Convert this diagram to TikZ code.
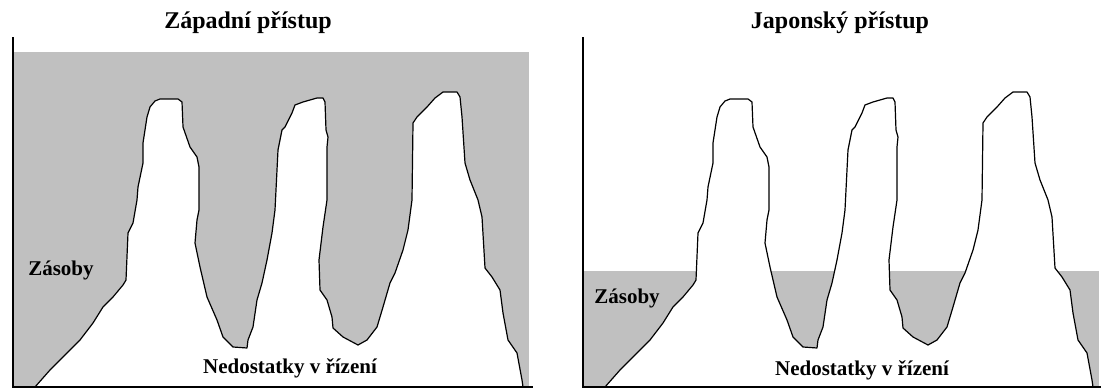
\documentclass[tikz,border=0pt]{standalone}
\usepackage{fontspec}
\setmainfont{Liberation Serif}

\definecolor{cinza}{RGB}{192,192,192}

\tikzset{
  eixo/.style={line width=2.2pt},
  contorno/.style={line width=1.2pt, line join=round},
  titulo/.style={font=\bfseries\fontsize{24}{28}\selectfont, inner sep=0pt},
  rotulo/.style={font=\bfseries\fontsize{21}{25}\selectfont, inner sep=0pt},
  % perfil das tres montanhas (coordenadas em pixels do painel esquerdo)
  montanhas/.pic={
    \draw[contorno, fill=white] (35,387) -- (50,370) -- (63,357) -- (80,340)
      -- (93,323) -- (103,307) -- (113,297) -- (123,285) -- (126,280)
      -- (128,233) -- (133,223) -- (137,200) -- (138,187) -- (143,163)
      -- (143,143) -- (147,117) -- (150,107) -- (155,101) -- (160,99)
      -- (178,99) -- (182,102) -- (183,127) -- (190,147) -- (197,157)
      -- (199,167) -- (199,210) -- (197,220) -- (195,243) -- (200,267)
      -- (207,297) -- (217,320) -- (223,337) -- (233,347) -- (247,348)
      -- (248,340) -- (253,327) -- (257,300) -- (262,283) -- (267,260)
      -- (272,233) -- (275,210) -- (278,150) -- (282,130) -- (285,127)
      -- (292,113) -- (295,105) -- (303,102) -- (317,98) -- (323,98)
      -- (325,102) -- (326,130) -- (328,137) -- (327,147) -- (327,200)
      -- (323,227) -- (319,260) -- (320,290) -- (327,300) -- (332,317)
      -- (333,328) -- (343,337) -- (358,345) -- (367,340) -- (377,327)
      -- (383,307) -- (390,283) -- (395,273) -- (403,250) -- (408,230)
      -- (412,200) -- (413,123) -- (417,117) -- (427,107) -- (435,98)
      -- (443,92) -- (457,92) -- (460,97) -- (462,117) -- (465,163)
      -- (470,180) -- (478,200) -- (482,217) -- (485,268) -- (492,277)
      -- (500,290) -- (503,313) -- (508,340) -- (517,353) -- (522,380)
      -- (523,387) -- cycle;
  }
}

\begin{document}
\begin{tikzpicture}[x=1pt, y=-1pt]
\useasboundingbox (0,0) rectangle (1101,388);

% Cantos dos eixos
\coordinate (TL1) at (13,37);  % superior esquerdo
\coordinate (BL1) at (13,387); % inferior esquerdo
\coordinate (BR1) at (533,387);% inferior direito
\coordinate (TL2) at (583,37);
\coordinate (BL2) at (583,387);
\coordinate (BR2) at (1101,387);

% --- Estoques (area cinza) ---
\fill[cinza] (13,52) rectangle (529,387);
\fill[cinza] (583,271) rectangle (1099,387);

% --- Montanhas ---
\pic at (0,0) {montanhas};
\pic at (570,0) {montanhas};

% --- Eixos ---
\draw[eixo] (TL1) -- (BL1) -- (BR1);
\draw[eixo] (TL2) -- (BL2) -- (BR2);

% --- Textos ---
\node[titulo] (tituloOc) at (248,23) {Západní přístup};
\node[titulo] (tituloJp) at (840,23) {Japonský přístup};

\node[rotulo] (zasobyOc) at (61,270) {Zásoby};
\node[rotulo] (zasobyJp) at (627,298) {Zásoby};

\node[rotulo] (nedostOc) at (290,368) {Nedostatky v řízení};
\node[rotulo] (nedostJp) at (862,370) {Nedostatky v řízení};

\end{tikzpicture}
\end{document}
